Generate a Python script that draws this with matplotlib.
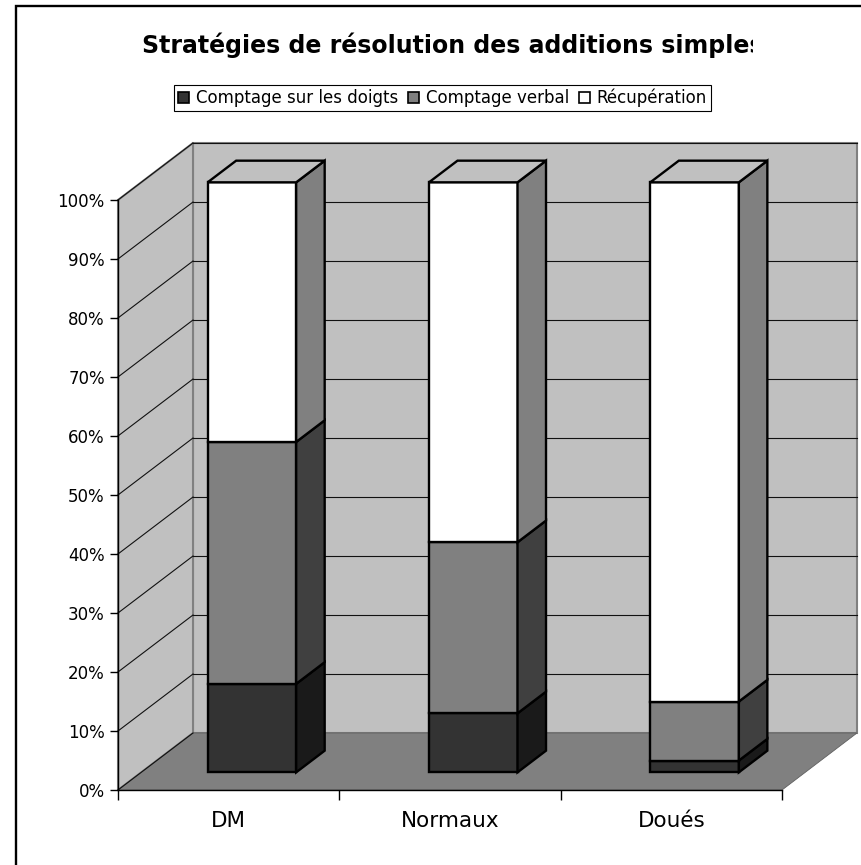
import matplotlib
matplotlib.use("Agg")
import matplotlib.pyplot as plt
from matplotlib.patches import Polygon, Rectangle, Patch
from matplotlib.transforms import Bbox

# --- data -------------------------------------------------------------
categories = ["DM", "Normaux", "Doués"]
doigts = [15, 10, 2]
verbal = [41, 29, 10]
recup = [44, 61, 88]
series_names = ["Comptage sur les doigts", "Comptage verbal", "Récupération"]
yticks = [0, 10, 20, 30, 40, 50, 60, 70, 80, 90, 100]
title = "Stratégies de résolution des additions simples"

# front face / side face colours per series (Excel 3D grey shading)
FRONT = ["#333333", "#808080", "#ffffff"]
SIDE = ["#1a1a1a", "#404040", "#808080"]
TOP = "#c0c0c0"
WALL = "#c0c0c0"
FLOOR = "#808080"

W, H = 861, 865
fig = plt.figure(figsize=(W / 100, H / 100), dpi=100, facecolor="white")
ax = fig.add_axes([118 / W, 1 - 790 / H, 664 / W, 590 / H])
ax.set_xlim(0, len(categories))
ax.set_ylim(0, 100)
ax.set_facecolor("none")

# oblique projection: z = depth fraction (0 front plane, 1 back wall)
DX = 75 / 664 * len(categories)
DY = 57 / 590 * 100


def proj(x, y, z):
    return (x + z * DX, y + z * DY)


def poly(pts, fc, ec="black", lw=1.7, z=2):
    ax.add_patch(Polygon([proj(*p) for p in pts], closed=True, facecolor=fc,
                         edgecolor=ec, linewidth=lw, joinstyle="miter",
                         clip_on=False, zorder=z))


n = len(categories)
# walls and floor
poly([(0, 0, 1), (n, 0, 1), (n, 100, 1), (0, 100, 1)], WALL, "#808080", 1.5, 1)
poly([(0, 0, 0), (0, 0, 1), (0, 100, 1), (0, 100, 0)], WALL, "#808080", 1.5, 1)
poly([(0, 0, 0), (n, 0, 0), (n, 0, 1), (0, 0, 1)], FLOOR, "#606060", 0.6, 1)

# gridlines on back and side walls
for t in yticks:
    if t > 0:
        xs, ys = zip(proj(0, t, 1), proj(n, t, 1))
        ax.plot(xs, ys, color="#111111", lw=0.8, clip_on=False, zorder=1.5)
    xs, ys = zip(proj(0, t, 0), proj(0, t, 1))
    ax.plot(xs, ys, color="#111111", lw=0.8, clip_on=False, zorder=1.5)

# stacked 3D columns
z0, z1 = 0.31, 0.69
half = 0.2
for i in range(n):
    x0, x1 = i + 0.5 - half, i + 0.5 + half
    bottom = 0
    for k, vals in enumerate([doigts, verbal, recup]):
        y0, y1 = bottom, bottom + vals[i]
        poly([(x0, y0, z0), (x1, y0, z0), (x1, y1, z0), (x0, y1, z0)], FRONT[k], z=3)
        poly([(x1, y0, z0), (x1, y0, z1), (x1, y1, z1), (x1, y1, z0)], SIDE[k], z=3)
        bottom = y1
    poly([(x0, bottom, z0), (x1, bottom, z0), (x1, bottom, z1), (x0, bottom, z1)], TOP, z=3)

# axes
for s in ["top", "right"]:
    ax.spines[s].set_visible(False)
for s in ["left", "bottom"]:
    ax.spines[s].set_linewidth(1.0)
    ax.spines[s].set_zorder(4)
ax.set_yticks(yticks, labels=[f"{t}%" for t in yticks])
ax.tick_params(axis="y", length=6, width=1, pad=3.5, labelsize=12)
ax.set_xticks(range(n + 1), labels=[])
ax.set_xticks([i + 0.5 for i in range(n)], labels=categories, minor=True)
ax.tick_params(axis="x", which="major", length=7.5, width=1)
ax.tick_params(axis="x", which="minor", length=0, pad=15, labelsize=15.5)

# title (clipped on the right like the source)
t = fig.text(453 / W, 1 - 53 / H, title, ha="center", va="baseline",
             fontsize=17, fontweight="bold")
t.set_clip_on(True)
t.set_clip_box(Bbox.from_extents(0, 0, 753, H))

# legend
handles = [Patch(facecolor=FRONT[k], edgecolor="black", linewidth=1.2,
                 label=series_names[k]) for k in range(3)]
leg = fig.legend(handles=handles, loc="center", bbox_to_anchor=(442.5 / W, 1 - 98 / H),
                 ncol=3, fontsize=12, frameon=True, fancybox=False, edgecolor="black",
                 framealpha=1, handlelength=0.65, handleheight=0.65, handletextpad=0.4,
                 columnspacing=0.6, borderpad=0.25, borderaxespad=0)
leg.get_frame().set_linewidth(0.8)

# chart-area border (extends past the cropped right/bottom edges)
fig.add_artist(Rectangle((16 / W, -0.1), 1.2, 1 - 6 / H + 0.1, transform=fig.transFigure,
                         fill=False, edgecolor="black", linewidth=1.7))

fig.savefig("out.png", dpi=100, facecolor="white")
